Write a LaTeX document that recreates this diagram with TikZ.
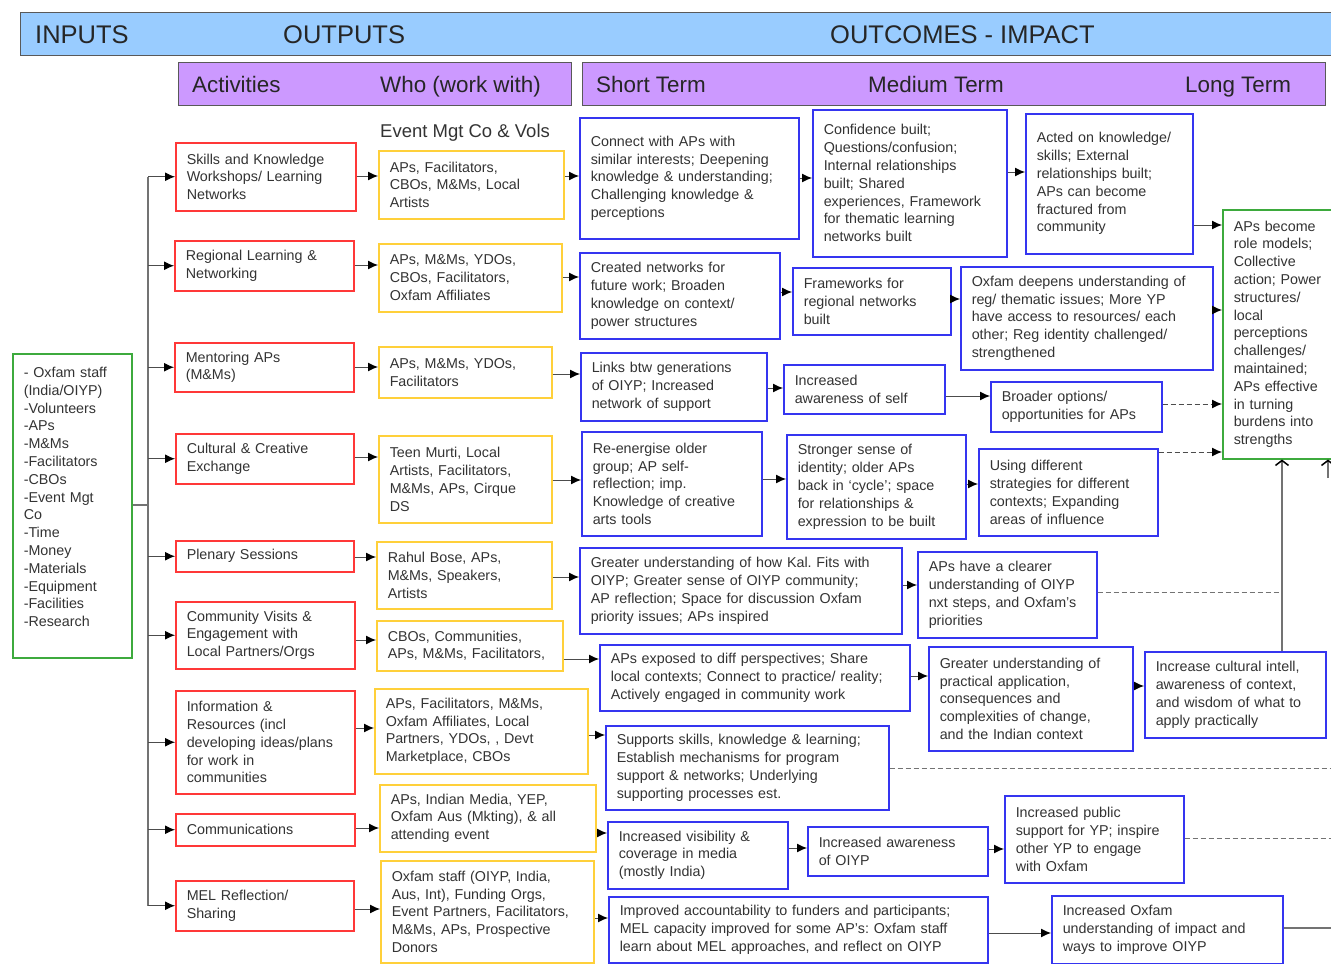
\documentclass[tikz,border=0pt]{standalone}
\usepackage{fontspec}
\setmainfont{Liberation Sans}
\usepackage{xcolor}
\usepackage{tikz}
\usetikzlibrary{arrows.meta}
\frenchspacing

\definecolor{bandblue}{HTML}{99CCFF}
\definecolor{bandpurple}{HTML}{CC99FF}
\definecolor{actred}{HTML}{FF3838}
\definecolor{whogold}{HTML}{FFD03A}
\definecolor{outblue}{HTML}{3535F0}
\definecolor{resgreen}{HTML}{3DAA3D}
\definecolor{txtgray}{HTML}{333333}

\begin{document}
\begin{tikzpicture}[
   x=1pt, y=-1pt,
   box/.style={rectangle, anchor=north west, fill=white, line width=1.5pt,
               align=left, inner xsep=11pt, inner ysep=2pt, text=txtgray,
               font=\fontsize{14.3}{17.8}\selectfont},
   sz/.code 2 args={\pgfmathsetmacro\boxtw{#1-22}%
               \edef\szset{\noexpand\tikzset{minimum width=#1pt,
                 minimum height=#2pt, text width=\boxtw pt}}\szset},
   act/.style={box, draw=actred},
   who/.style={box, draw=whogold},
   outc/.style={box, draw=outblue},
   res/.style={box, draw=resgreen},
   band/.style={rectangle, anchor=north west, draw=black!65, line width=1.2pt,
                minimum height=43pt},
   head/.style={anchor=base west, inner sep=0pt, text=black!85},
   arr/.style={draw=black!70, line width=1pt,
               -{Latex[length=10pt,width=9pt,color=black]}},
   dasharr/.style={arr, dash pattern=on 5pt off 3pt},
   link/.style={draw=black!55, line width=1pt, dash pattern=on 5pt off 3pt},
   trunkln/.style={draw=black!55, line width=1.2pt},
   up/.style={draw=black!55, line width=1.2pt,
              -{Straight Barb[length=5pt,width=13pt,line width=1.5pt,color=black]}}
]
\useasboundingbox (0,0) rectangle (1331,964);

% Header bands
\node[band, fill=bandblue, minimum width=1330pt] (hdr) at (20,12) {};
\node[head, font=\fontsize{25.5}{30}\selectfont] (tin) at (35,43) {INPUTS};
\node[head, font=\fontsize{25.5}{30}\selectfont] (tout) at (283,43) {OUTPUTS};
\node[head, font=\fontsize{25.5}{30}\selectfont] (timp) at (830,43) {OUTCOMES - IMPACT};

\node[band, fill=bandpurple, minimum width=393pt] (pout) at (178,62) {};
\node[band, fill=bandpurple, minimum width=743pt] (pimp) at (582,62) {};
\node[head, font=\fontsize{22.4}{26}\selectfont] (tact) at (192,92) {Activities};
\node[head, font=\fontsize{22.4}{26}\selectfont] (twho) at (380,92) {Who (work with)};
\node[head, font=\fontsize{22.4}{26}\selectfont] (tshort) at (596,92) {Short Term};
\node[head, font=\fontsize{22.4}{26}\selectfont] (tmed) at (868,92) {Medium Term};
\node[head, font=\fontsize{22.4}{26}\selectfont] (tlong) at (1185,92) {Long Term};

\node[head, font=\fontsize{18.5}{22}\selectfont, text=txtgray] (evt) at (380,137) {Event Mgt Co \& Vols};

% Inputs
\node[res, sz={119}{304}] (inputs) at (12,353)
  {- Oxfam staff\\(India/OIYP)\\-Volunteers\\-APs\\-M\&Ms\\-Facilitators\\-CBOs\\-Event Mgt\\Co\\-Time\\-Money\\-Materials\\-Equipment\\-Facilities\\-Research\\\mbox{}};

% Activities
\node[act, sz={180}{68}] (A1) at (175,142) {Skills and Knowledge\\Workshops/ Learning\\Networks};
\node[act, sz={179}{50}] (A2) at (174,240) {Regional Learning \&\\Networking};
\node[act, sz={179}{49}] (A3) at (174,342) {Mentoring APs\\(M\&Ms)};
\node[act, sz={178}{50}] (A4) at (175,433) {Cultural \& Creative\\Exchange};
\node[act, sz={178}{31}] (A5) at (175,540) {Plenary Sessions};
\node[act, sz={179}{67}] (A6) at (175,601) {Community Visits \&\\Engagement with\\Local Partners/Orgs};
\node[act, sz={179}{103}] (A7) at (175,690) {Information \&\\Resources (incl\\developing ideas/plans\\for work in\\communities};
\node[act, sz={179}{32}] (A8) at (175,813) {Communications};
\node[act, sz={178}{50}] (A9) at (175,880) {MEL Reflection/\\Sharing};

% Who
\node[who, sz={185}{68}] (W1) at (378,150) {APs, Facilitators,\\CBOs, M\&Ms, Local\\Artists};
\node[who, sz={183}{68}] (W2) at (378,243) {APs, M\&Ms, YDOs,\\CBOs, Facilitators,\\Oxfam Affiliates};
\node[who, sz={173}{51}] (W3) at (378,346) {APs, M\&Ms, YDOs,\\Facilitators};
\node[who, sz={173}{87}] (W4) at (378,435) {Teen Murti, Local\\Artists, Facilitators,\\M\&Ms, APs, Cirque\\DS};
\node[who, sz={175}{67}] (W5) at (376,541) {Rahul Bose, APs,\\M\&Ms, Speakers,\\Artists};
\node[who, sz={186}{50}] (W6) at (376,620) {CBOs, Communities,\\APs, M\&Ms, Facilitators,};
\node[who, sz={213}{85}] (W7) at (374,688) {APs, Facilitators, M\&Ms,\\Oxfam Affiliates, Local\\Partners, YDOs, , Devt\\Marketplace, CBOs};
\node[who, sz={216}{67}] (W8) at (379,784) {APs, Indian Media, YEP,\\Oxfam Aus (Mkting), \& all\\attending event};
\node[who, sz={213}{102}] (W9) at (380,860) {Oxfam staff (OIYP, India,\\Aus, Int), Funding Orgs,\\Event Partners, Facilitators,\\M\&Ms, APs, Prospective\\Donors};

% Short term
\node[outc, sz={219}{121}] (S1) at (579,117) {Connect with APs with\\similar interests; Deepening\\knowledge \& understanding;\\Challenging knowledge \&\\perceptions};
\node[outc, sz={200}{86}] (S2) at (579,252) {Created networks for\\future work; Broaden\\knowledge on context/\\power structures};
\node[outc, sz={186}{68}] (S3) at (580,352) {Links btw generations\\of OIYP; Increased\\network of support};
\node[outc, sz={180}{104}] (S4) at (581,431) {Re-energise older\\group; AP self-\\reflection; imp.\\Knowledge of creative\\arts tools};
\node[outc, sz={322}{86}] (S5) at (579,547) {Greater understanding of how Kal. Fits with\\OIYP; Greater sense of OIYP community;\\AP reflection; Space for discussion Oxfam\\priority issues; APs inspired};
\node[outc, sz={310}{66}] (S6) at (599,644) {APs exposed to diff perspectives; Share\\local contexts; Connect to practice/ reality;\\Actively engaged in community work};
\node[outc, sz={283}{84}] (S7) at (605,725) {Supports skills, knowledge \& learning;\\Establish mechanisms for program\\support \& networks; Underlying\\supporting processes est.};
\node[outc, sz={180}{67}] (S8) at (607,821) {Increased visibility \&\\coverage in media\\(mostly India)};
\node[outc, sz={379}{66}] (S9) at (608,896) {Improved accountability to funders and participants;\\MEL capacity improved for some AP's: Oxfam staff\\learn about MEL approaches, and reflect on OIYP};

% Medium term
\node[outc, sz={194}{147}] (M1) at (812,109) {Confidence built;\\Questions/confusion;\\Internal relationships\\built; Shared\\experiences, Framework\\for thematic learning\\networks built};
\node[outc, sz={158}{67}] (M2) at (792,267) {Frameworks for\\regional networks\\built};
\node[outc, sz={161}{49}] (M3) at (783,364) {Increased\\awareness of self};
\node[outc, sz={179}{104}] (M4) at (786,434) {Stronger sense of\\identity; older APs\\back in `cycle'; space\\for relationships \&\\expression to be built};
\node[outc, sz={179}{86}] (M5) at (917,551) {APs have a clearer\\understanding of OIYP\\nxt steps, and Oxfam's\\priorities};
\node[outc, sz={204}{104}] (M6) at (928,646) {Greater understanding of\\practical application,\\consequences and\\complexities of change,\\and the Indian context};
\node[outc, sz={180}{49}] (M8) at (807,826) {Increased awareness\\of OIYP};

% Long term
\node[outc, sz={167}{140}] (L1) at (1025,113) {Acted on knowledge/\\skills; External\\relationships built;\\APs can become\\fractured from\\community};
\node[outc, sz={252}{103}] (L2) at (960,266) {Oxfam deepens understanding of\\reg/ thematic issues; More YP\\have access to resources/ each\\other; Reg identity challenged/\\strengthened};
\node[outc, sz={171}{50}] (L3) at (990,381) {Broader options/\\opportunities for APs};
\node[outc, sz={179}{87}] (L4) at (978,448) {Using different\\strategies for different\\contexts; Expanding\\areas of influence};
\node[outc, sz={181}{86}] (L6) at (1144,651) {Increase cultural intell,\\awareness of context,\\and wisdom of what to\\apply practically};
\node[outc, sz={179}{87}] (L8) at (1004,795) {Increased public\\support for YP; inspire\\other YP to engage\\with Oxfam};
\node[outc, sz={231}{68}] (L9) at (1051,895) {Increased Oxfam\\understanding of impact and\\ways to improve OIYP};
\node[res, sz={115}{249}] (G) at (1222,209) {APs become\\role models;\\Collective\\action; Power\\structures/\\local\\perceptions\\challenges/\\maintained;\\APs effective\\in turning\\burdens into\\strengths};

% Inputs to activities
\coordinate (trunk) at (148,505);
\draw[trunkln] (inputs.east |- trunk) -- (trunk);
\draw[trunkln] (trunk |- A1.west) -- (trunk |- A9.west);
\foreach \a in {A1,A2,A3,A4,A5,A6,A7,A8,A9}
  \draw[arr] (trunk |- \a.west) -- (\a.west);

% Horizontal links along each row
\foreach \a/\b/\y in {A1/W1/176, A2/W2/265, A3/W3/367, A4/W4/457, A5/W5/557,
    A6/W6/640, A7/W7/728, A8/W8/828, A9/W9/909,
    W1/S1/176, W2/S2/277, W3/S3/374, W4/S4/480, W5/S5/577,
    W6/S6/659, W7/S7/735, W8/S8/833, W9/S9/918,
    S1/M1/178, S2/M2/292, S3/M3/388, S4/M4/479, S5/M5/585,
    S6/M6/676, S8/M8/848,
    M1/L1/172, M2/L2/299, M3/L3/396, M4/L4/484, M6/L6/686, M8/L8/849,
    L1/G/225, L2/G/310, S9/L9/933}
  \draw[arr] (\a.east |- 0,\y) -- (\b.west |- 0,\y);

\draw[dasharr] (L3.east |- 0,404) -- (G.west |- 0,404);
\draw[dasharr] (L4.east |- 0,452) -- (G.west |- 0,452);

% Links into the long term box
\coordinate (j5) at (1282,592);
\coordinate (e7) at (1331,768);
\coordinate (e8) at (1331,838);
\coordinate (e9) at (1331,928);
\coordinate (e0) at (1328,478);
\draw[up] (L6.north -| j5) -- (G.south -| j5);
\draw[up] (e0) -- (e0 |- G.south);
\draw[link] (M5.east |- j5) -- (j5);
\draw[link] (S7.east |- e7) -- (e7);
\draw[link] (L8.east |- e8) -- (e8);
\draw[trunkln] (L9.east |- e9) -- (e9);
\end{tikzpicture}
\end{document}
